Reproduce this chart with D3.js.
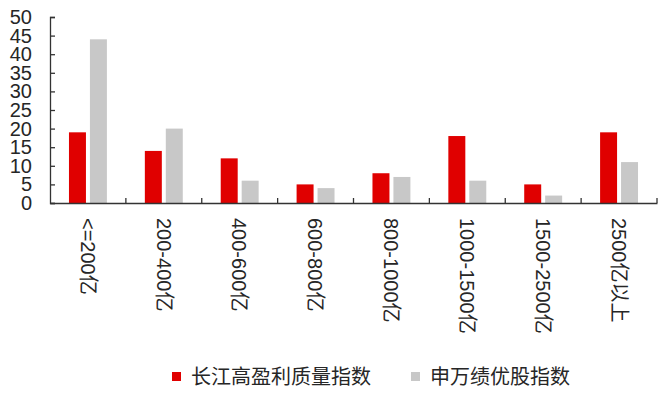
<!DOCTYPE html>
<html>
<head>
<meta charset="utf-8">
<script src="https://cdn.jsdelivr.net/npm/d3@7"></script>
<style>
  body { margin: 0; background: #fff; }
  svg { display: block; }
</style>
</head>
<body>
<svg id="chart"></svg>
<script>
// data
const categories = ["<=200亿", "200-400亿", "400-600亿", "600-800亿", "800-1000亿", "1000-1500亿", "1500-2500亿", "2500亿以上"];
const seriesNames = ["长江高盈利质量指数", "申万绩优股指数"];
const changjiang = [19, 14, 12, 5, 8, 18, 5, 19];
const shenwan = [44, 20, 6, 4, 7, 6, 2, 11];
const yTicks = [0, 5, 10, 15, 20, 25, 30, 35, 40, 45, 50];

const width = 666, height = 396;
const marginLeft = 50, marginRight = 9, marginTop = 17, marginBottom = 193;
const colors = ["#E00000", "#C8C8C8"];
const font = "'Liberation Sans', Arial, 'Noto Sans CJK SC', sans-serif";

const svg = d3.select("#chart")
    .attr("width", width)
    .attr("height", height);

svg.append("rect").attr("width", width).attr("height", height).attr("fill", "#fff");

const x = d3.scaleBand()
    .domain(categories)
    .range([marginLeft, width - marginRight])
    .padding(0);

const x1 = d3.scaleBand()
    .domain(seriesNames)
    .range([0, x.bandwidth()])
    .paddingInner(0.19)
    .paddingOuter(0.905);

const y = d3.scaleLinear()
    .domain([0, 50])
    .range([height - marginBottom, marginTop]);

const rows = categories.map((c, i) => ({ cat: c, values: [changjiang[i], shenwan[i]] }));

// bars
const groups = svg.append("g").selectAll("g")
    .data(rows)
    .enter().append("g")
    .attr("transform", d => `translate(${x(d.cat)},0)`);

groups.selectAll("rect")
    .data(d => d.values.map((v, j) => ({ key: seriesNames[j], v, j })))
    .enter().append("rect")
    .attr("x", d => x1(d.key))
    .attr("width", x1.bandwidth())
    .attr("y", d => y(d.v))
    .attr("height", d => y(0) - y(d.v))
    .attr("fill", d => colors[d.j]);

// y axis (ticks pointing inward)
const yAxis = svg.append("g")
    .attr("transform", `translate(${marginLeft},0)`)
    .call(d3.axisLeft(y).tickValues(yTicks).tickSize(-5).tickPadding(18));
yAxis.selectAll("line, path").attr("stroke", "#333").attr("stroke-width", 1.3);
yAxis.selectAll("text")
    .attr("font-family", font)
    .attr("font-size", 20)
    .attr("fill", "#262626");

// x axis
const xAxis = svg.append("g")
    .attr("transform", `translate(0,${y(0)})`)
    .call(d3.axisBottom(x).tickSize(0).tickPadding(0));
xAxis.select("path").attr("stroke", "#333").attr("stroke-width", 1.3);
xAxis.selectAll("text")
    .attr("transform", "rotate(90)")
    .attr("x", 15)
    .attr("y", 0)
    .attr("dy", "0.36em")
    .attr("text-anchor", "start")
    .attr("font-family", font)
    .attr("font-size", 20)
    .attr("fill", "#262626");

// boundary ticks between categories, pointing up
xAxis.selectAll(".sep")
    .data(categories)
    .enter().append("line")
    .attr("class", "sep")
    .attr("x1", d => x(d) + x.step())
    .attr("x2", d => x(d) + x.step())
    .attr("y1", 0)
    .attr("y2", -5)
    .attr("stroke", "#333")
    .attr("stroke-width", 1.3);

// legend
const legendX = [172, 411];
const legend = svg.append("g").selectAll("g")
    .data(seriesNames)
    .enter().append("g")
    .attr("transform", (d, i) => `translate(${legendX[i]},372)`);

legend.append("rect")
    .attr("width", 9)
    .attr("height", 9)
    .attr("fill", (d, i) => colors[i]);

legend.append("text")
    .attr("x", 19)
    .attr("y", 5)
    .attr("dy", "0.36em")
    .attr("font-family", "'Noto Sans CJK SC', sans-serif")
    .attr("font-size", 20)
    .attr("fill", "#262626")
    .text(d => d);
</script>
</body>
</html>
